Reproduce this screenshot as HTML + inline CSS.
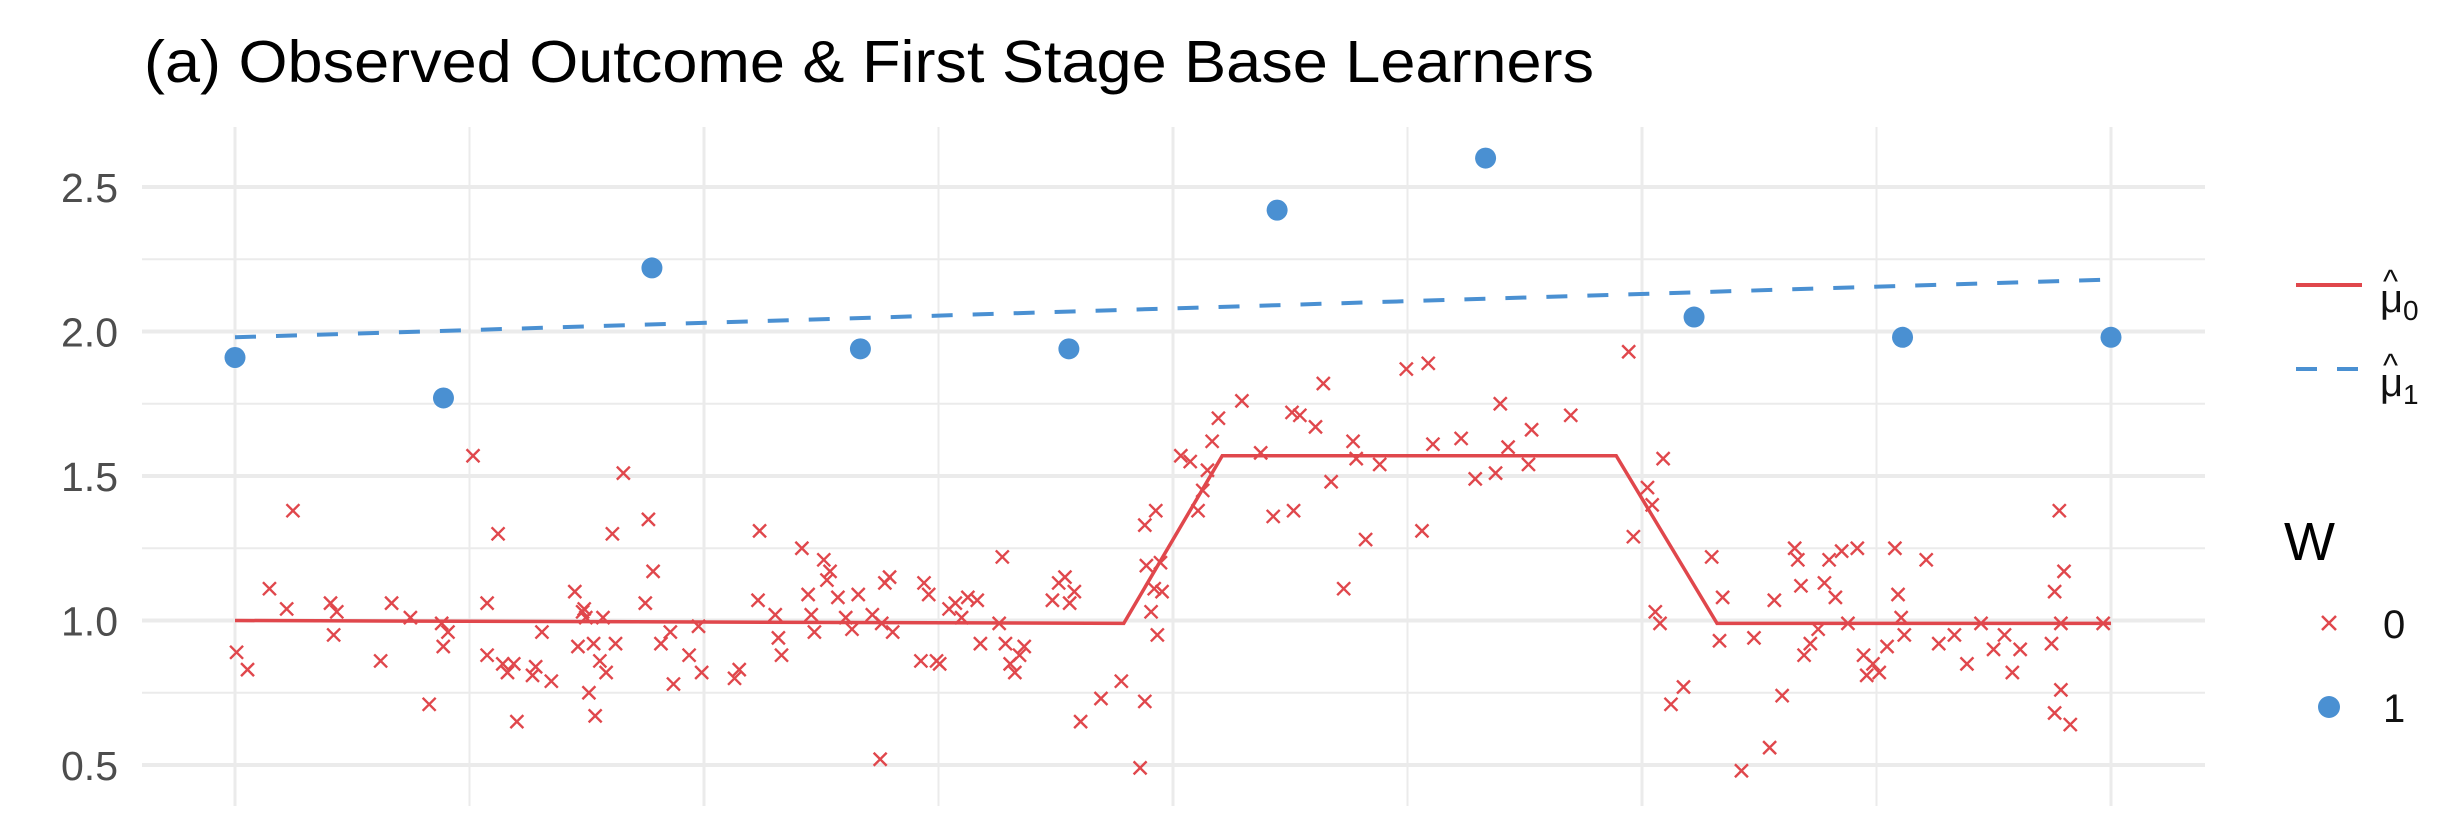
<!DOCTYPE html>
<html><head><meta charset="utf-8"><style>
html,body{margin:0;padding:0;background:#fff;}
svg{display:block;font-family:"Liberation Sans",Arial,sans-serif;}
</style></head><body>
<svg id="chart" width="2456" height="826" viewBox="0 0 2456 826" xmlns="http://www.w3.org/2000/svg">
<text x="144" y="82" font-size="59" textLength="1450" lengthAdjust="spacingAndGlyphs" fill="#000">(a) Observed Outcome &amp; First Stage Base Learners</text>
<g id="grid"></g>
<g id="yticks"></g>
<g id="marks"></g>
<g>
<line x1="2296" y1="285" x2="2362" y2="285" stroke="#E0474C" stroke-width="4"/>
<text x="2380" y="312" font-size="40" fill="#111">μ<tspan font-size="28" dy="8">0</tspan></text>
<text x="2383" y="292" font-size="32" fill="#111">^</text>
<line x1="2296" y1="369" x2="2362" y2="369" stroke="#4A90D2" stroke-width="4" stroke-dasharray="21,20"/>
<text x="2380" y="396" font-size="40" fill="#111">μ<tspan font-size="28" dy="8">1</tspan></text>
<text x="2383" y="376" font-size="32" fill="#111">^</text>
<text x="2284" y="560" font-size="54" fill="#000">W</text>
<path d="M2322 616 L2336 630 M2336 616 L2322 630" stroke="#E0474C" stroke-width="2.5"/>
<text x="2383" y="638" font-size="40" fill="#111">0</text>
<circle cx="2329" cy="707" r="11" fill="#4A90D2"/>
<text x="2383" y="722" font-size="40" fill="#111">1</text>
</g>
</svg>
<script>
const yTicks=[0.5,1.0,1.5,2.0,2.5];
const yTickLabels=["0.5","1.0","1.5","2.0","2.5"];
const yMinor=[0.75,1.25,1.75,2.25];
const xGrid=[0,1,2,3,4,5,6,7,8];
const blueX=[0,0.889,1.778,2.667,3.556,4.444,5.333,6.222,7.111,8];
const blueY=[1.91,1.77,2.22,1.94,1.94,2.42,2.60,2.05,1.98,1.98];
const mu0X=[0,3.79,4.21,5.89,6.32,8];
const mu0Y=[1.0,0.99,1.57,1.57,0.99,0.99];
const mu1X=[0,8];
const mu1Y=[1.98,2.18];
const redXraw=[151,158,172,187,183,211,213,215,243,250,262,274,282,283,286,302,311,318,311,321,324,330,328,340,342,346,352,367,369,372,374,376,379,380,383,385,387,373,391,393,398,412,414,417,422,428,430,440,446,448,469,472,485,484,495,497,499,512,516,518,520,526,528,530,535,540,544,548,557,562,565,568,563,570,588,590,593,598,600,606,610,614,618,624,626,638,640,642,645,648,651,654,672,676,680,683,686,690,703,716,728,731,732,735,737,739,741,731,738,742,754,760,765,768,771,774,778,793,805,813,825,826,830,840,845,850,858,864,866,872,881,898,912,908,915,933,942,955,958,963,976,978,1003,1040,1043,1052,1055,1062,1057,1060,1067,1075,1093,1098,1100,1112,1120,1130,1133,1138,1146,1148,1150,1152,1156,1161,1165,1168,1172,1176,1180,1186,1190,1192,1196,1200,1205,1210,1212,1214,1216,1230,1238,1248,1256,1265,1273,1280,1285,1290,1312,1315,1316,1316,1318,1312,1322,1343,1310];
const redY=[0.89,0.83,1.11,1.38,1.04,1.06,0.95,1.03,0.86,1.06,1.01,0.71,0.99,0.91,0.96,1.57,1.06,1.30,0.88,0.85,0.82,0.65,0.85,0.81,0.84,0.96,0.79,1.10,0.91,1.03,1.01,0.75,0.92,0.67,0.86,1.01,0.82,1.04,1.30,0.92,1.51,1.06,1.35,1.17,0.92,0.96,0.78,0.88,0.98,0.82,0.80,0.83,1.31,1.07,1.02,0.94,0.88,1.25,1.09,1.02,0.96,1.21,1.14,1.17,1.08,1.01,0.97,1.09,1.02,0.52,1.13,1.15,0.99,0.96,0.86,1.13,1.09,0.86,0.85,1.04,1.06,1.01,1.08,1.07,0.92,0.99,1.22,0.92,0.85,0.82,0.88,0.91,1.07,1.13,1.15,1.06,1.10,0.65,0.73,0.79,0.49,0.72,1.19,1.03,1.11,0.95,1.20,1.33,1.38,1.10,1.57,1.55,1.38,1.45,1.52,1.62,1.70,1.76,1.58,1.36,1.72,1.38,1.71,1.67,1.82,1.48,1.11,1.62,1.56,1.28,1.54,1.87,1.89,1.31,1.61,1.63,1.49,1.51,1.75,1.60,1.54,1.66,1.71,1.93,1.29,1.46,1.40,1.56,1.03,0.99,0.71,0.77,1.22,0.93,1.08,0.48,0.94,0.56,1.07,0.74,1.25,1.21,1.12,0.88,0.92,0.97,1.13,1.21,1.08,1.24,0.99,1.25,0.88,0.81,0.85,0.82,0.91,1.25,1.09,1.01,0.95,1.21,0.92,0.95,0.85,0.99,0.90,0.95,0.82,0.90,1.10,1.38,0.99,0.76,1.17,0.68,0.64,0.99,0.92];
const NS="http://www.w3.org/2000/svg";
const X0=235,X1=2111,Y25=187,PX=289;
function xs(u){return X0+(X1-X0)*u/8;}
function ys(v){return Y25+(2.5-v)*PX;}
function xr(d){return xs((d-150)/149.75);}
function mk(t,a,p){const e=document.createElementNS(NS,t);for(const k in a)e.setAttribute(k,a[k]);p.appendChild(e);return e;}
const grid=document.getElementById('grid'),yt=document.getElementById('yticks'),mg=document.getElementById('marks');
yMinor.forEach(v=>{const l=mk('line',{x1:142,x2:2205,y1:ys(v),y2:ys(v),stroke:'#ebebeb','stroke-width':2},grid);

});
yTicks.forEach((v,i)=>{const l=mk('line',{x1:142,x2:2205,y1:ys(v),y2:ys(v),stroke:'#ebebeb','stroke-width':4},grid);


const t=mk('text',{x:118,y:ys(v)+15,'text-anchor':'end','font-size':41,fill:'#4d4d4d'},yt);t.textContent=yTickLabels[i];

});
xGrid.forEach(u=>{const l=mk('line',{x1:xs(u),x2:xs(u),y1:127,y2:806,stroke:'#ebebeb','stroke-width':u%2?2:3},grid);

});
redXraw.forEach((d,i)=>{const cx=xr(d),cy=ys(redY[i]),s=6.5;
const p=mk('path',{d:`M${cx-s} ${cy-s} L${cx+s} ${cy+s} M${cx+s} ${cy-s} L${cx-s} ${cy+s}`,stroke:'#E0474C','stroke-width':2.4},mg);

});
const l0=mk('polyline',{points:mu0X.map((u,i)=>xs(u)+','+ys(mu0Y[i])).join(' '),fill:'none',stroke:'#E0474C','stroke-width':3.5},mg);


const l1=mk('polyline',{points:mu1X.map((u,i)=>xs(u)+','+ys(mu1Y[i])).join(' '),fill:'none',stroke:'#4A90D2','stroke-width':4,'stroke-dasharray':'21,20'},mg);


blueX.forEach((u,i)=>{const c=mk('circle',{cx:xs(u),cy:ys(blueY[i]),r:10.5,fill:'#4A90D2'},mg);

});
</script>
</body></html>
